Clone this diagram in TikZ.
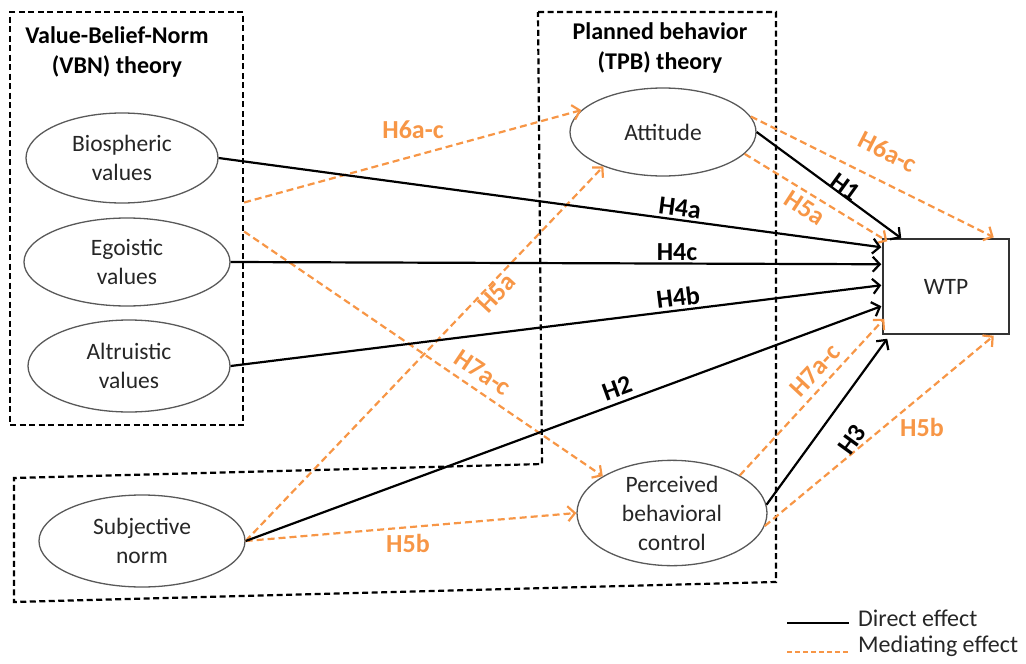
\documentclass[tikz,border=0pt]{standalone}
\usepackage{fontspec}
\setmainfont{Carlito}
\usetikzlibrary{arrows.meta,shapes.geometric,calc}
\definecolor{org}{HTML}{F79646}
\begin{document}
\begin{tikzpicture}[x=1pt,y=-1pt,
  ell/.style={ellipse, draw=black!65, line width=1.3pt, inner sep=0pt, align=center,
    font=\fontsize{23.5}{29}\selectfont, text=black!85},
  ttl/.style={align=center, font=\bfseries\fontsize{24}{30}\selectfont},
  lbl/.style={font=\bfseries\fontsize{26}{30}\selectfont, inner sep=0pt},
  olbl/.style={lbl, text=org},
  theorybox/.style={draw=black, line width=2.2pt, dash pattern=on 6pt off 3.5pt},
  direct/.style={draw=black, line width=2.2pt, -{Straight Barb[length=7pt,width=15pt]}},
  mediate/.style={draw=org, line width=2.2pt, dash pattern=on 7pt off 4pt, -{Straight Barb[length=7pt,width=15pt]}},
  legtxt/.style={anchor=west, font=\fontsize{24}{29}\selectfont, text=black!85, inner sep=0pt}
]
\useasboundingbox (0,0) rectangle (1026,664);

% theory boxes
\node[theorybox, minimum width=233pt, minimum height=413pt, inner sep=0pt] (vbn) at (126.5,218.5) {};
\draw[theorybox, line join=miter] (538,12) -- (776,12) -- (776,582) -- (14,602) -- (14,478) -- (542,464) -- cycle;

\node[ttl] (vbnt) at (117,52) {Value-Belief-Norm\\(VBN) theory};
\node[ttl] (tpbt) at (660,48) {Planned behavior\\(TPB) theory};

% constructs
\node[ell, minimum width=192pt, minimum height=90pt] (bio) at (122,158) {Biospheric\\values};
\node[ell, minimum width=206pt, minimum height=88pt] (ego) at (127,262) {Egoistic\\values};
\node[ell, minimum width=202pt, minimum height=92pt] (alt) at (129,366) {Altruistic\\values};
\node[ell, minimum width=206pt, minimum height=92pt] (sub) at (142,541) {Subjective\\norm};
\node[ell, minimum width=186pt, minimum height=88pt] (att) at (663,132) {Attitude};
\node[ell, minimum width=190pt, minimum height=98pt] (pbc) at (672,513) {Perceived\\behavioral\\control};
\node[draw=black!80, line width=1.5pt, minimum width=126pt, minimum height=95pt, inner sep=0pt,
  font=\fontsize{23.5}{29}\selectfont, text=black!85] (wtp) at (946,286.5) {WTP};

% connector end points
\coordinate (vA) at ($(vbn.east)+(0,-16)$);
\coordinate (vB) at ($(vbn.east)+(0,13)$);
\coordinate (t4a) at ($(wtp.north west)+(-1,9)$);
\coordinate (t4c) at ($(wtp.north west)+(-1,26)$);
\coordinate (t4b) at ($(wtp.north west)+(-1,47)$);
\coordinate (t2)  at ($(wtp.north west)+(-1,68)$);
\coordinate (t1)  at ($(wtp.north west)+(19,0)$);
\coordinate (t5a) at ($(wtp.north west)+(5,3)$);
\coordinate (t6)  at ($(wtp.north east)+(-16,-1)$);
\coordinate (t7)  at ($(wtp.south west)+(2,-16)$);
\coordinate (t3)  at ($(wtp.south west)+(5,4)$);
\coordinate (t5b) at ($(wtp.south east)+(-16,1)$);

% mediating effects
\draw[mediate] (vA) -- (att.165);
\draw[mediate] (vB) -- (pbc.152);
\draw[mediate] (sub.east) -- (att.210);
\draw[mediate] (sub.east) -- (pbc.west);
\draw[mediate] (att.10) -- (t6);
\draw[mediate] (att.-15) -- (t5a);
\draw[mediate] (pbc.29) -- (t7);
\draw[mediate] (pbc.-8) -- (t5b);

% direct effects
\draw[direct] (bio.east) -- (t4a);
\draw[direct] (ego.east) -- (t4c);
\draw[direct] (alt.east) -- (t4b);
\draw[direct] (sub.east) -- (t2);
\draw[direct] (att.east) -- (t1);
\draw[direct] (pbc.5) -- (t3);

% labels
\node[olbl] (l6l) at (413,130) {H6a-c};
\node[lbl, rotate=-7.5] (l4a) at (680,208) {H4a};
\node[lbl] (l4c) at (677,252) {H4c};
\node[lbl, rotate=7] (l4b) at (678,297) {H4b};
\node[lbl, rotate=20] (l2) at (617,388) {H2};
\node[olbl, rotate=47] (l5am) at (497,293) {H5a};
\node[olbl, rotate=-34] (l7m) at (483,373) {H7a-c};
\node[olbl] (l5bb) at (408,543) {H5b};
\node[lbl, rotate=-36] (l1) at (845,187) {H1};
\node[olbl, rotate=-33] (l5ar) at (805,208) {H5a};
\node[olbl, rotate=-27] (l6r) at (888,152) {H6a-c};
\node[olbl, rotate=47] (l7r) at (815,370) {H7a-c};
\node[lbl, rotate=54] (l3) at (852,440) {H3};
\node[olbl] (l5br) at (922,427) {H5b};

% legend
\coordinate (la1) at (787,623);
\coordinate (la2) at (849,623);
\coordinate (lb1) at (787,652);
\coordinate (lb2) at (849,652);
\draw[black, line width=2.5pt] (la1) -- (la2);
\draw[org, line width=2.2pt, dash pattern=on 5pt off 3pt] (lb1) -- (lb2);
\node[legtxt] (ld) at (858,618) {Direct effect};
\node[legtxt] (lm) at (858,646) {Mediating effect};
\end{tikzpicture}
\end{document}
